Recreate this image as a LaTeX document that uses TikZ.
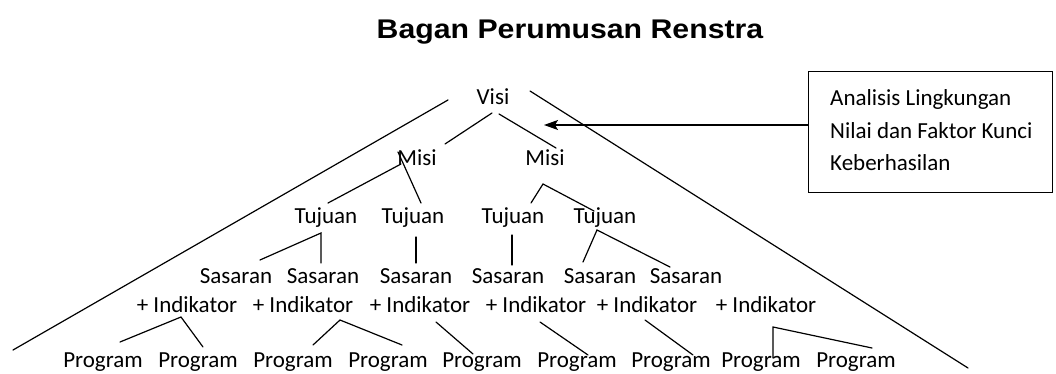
\documentclass[tikz,border=0pt]{standalone}
\usepackage{fontspec}
\setmainfont{Carlito}
\newfontfamily\titlefont{Liberation Sans}
\usetikzlibrary{arrows.meta}
\begin{document}
\begin{tikzpicture}[x=1pt,y=-1pt,
  lbl/.style={anchor=base,inner sep=0pt,font=\fontsize{23}{28}\selectfont},
  ln/.style={line width=1.2pt,line cap=round},
]
\useasboundingbox (0,0) rectangle (1056,374);
% title
\node[anchor=base,inner sep=0pt] (title) at (570,39)
  {\scalebox{1.12}[1]{\titlefont\bfseries\fontsize{27}{32}\selectfont Bagan Perumusan Renstra}};
% tree labels
\node[lbl] (visi) at (493,105) {Visi};
\node[lbl] (misiA) at (417,165) {Misi};
\node[lbl] (misiB) at (545,165) {Misi};
\node[lbl] (tujA) at (326,223) {Tujuan};
\node[lbl] (tujB) at (413,223) {Tujuan};
\node[lbl] (tujC) at (513,223) {Tujuan};
\node[lbl] (tujD) at (605,223) {Tujuan};
\node[lbl] (sasA) at (236,283) {Sasaran};
\node[lbl] (sasB) at (323,283) {Sasaran};
\node[lbl] (sasC) at (416,283) {Sasaran};
\node[lbl] (sasD) at (508,283) {Sasaran};
\node[lbl] (sasE) at (600,283) {Sasaran};
\node[lbl] (sasF) at (686,283) {Sasaran};
\node[lbl] (indA) at (187,312) {+ Indikator};
\node[lbl] (indB) at (303,312) {+ Indikator};
\node[lbl] (indC) at (420,312) {+ Indikator};
\node[lbl] (indD) at (536,312) {+ Indikator};
\node[lbl] (indE) at (647,312) {+ Indikator};
\node[lbl] (indF) at (766,312) {+ Indikator};
\node[lbl] (prA) at (103,367) {Program};
\node[lbl] (prB) at (198,367) {Program};
\node[lbl] (prC) at (293,367) {Program};
\node[lbl] (prD) at (388,367) {Program};
\node[lbl] (prE) at (482,367) {Program};
\node[lbl] (prF) at (577,367) {Program};
\node[lbl] (prG) at (671,367) {Program};
\node[lbl] (prH) at (761,367) {Program};
\node[lbl] (prI) at (856,367) {Program};
% box
\node[draw,line width=1.4pt,anchor=north west,inner sep=0pt,
      minimum width=244pt,minimum height=121pt] (box) at (808,71) {};
\node[lbl,anchor=base west] (bt1) at (830,106) {Analisis Lingkungan};
\node[lbl,anchor=base west] (bt2) at (830,139) {Nilai dan Faktor Kunci};
\node[lbl,anchor=base west] (bt3) at (830,171) {Keberhasilan};
% connector end points
\coordinate (Ls) at (448,100);  \coordinate (Le) at (13,350);
\coordinate (Rs) at (530,91);   \coordinate (Re) at (968,368);
\coordinate (v1) at (492,113);  \coordinate (v1e) at (445,144);
\coordinate (v2) at (499,114);  \coordinate (v2e) at (556,148);
\coordinate (arrtip) at (544,125);
\coordinate (mA) at (401,164);  \coordinate (mAt) at (398,152);
\coordinate (mAl) at (328,203); \coordinate (mAr) at (421,203);
\coordinate (mB) at (543,184);  \coordinate (mBl) at (531,203); \coordinate (mBr) at (594,211);
\coordinate (tA) at (321,233);  \coordinate (tAl) at (260,260); \coordinate (tAr) at (321,263);
\coordinate (tB) at (416,237);  \coordinate (tBe) at (416,263);
\coordinate (tC) at (512,235);  \coordinate (tCe) at (512,265);
\coordinate (tD) at (597,230);  \coordinate (tDl) at (583,262); \coordinate (tDr) at (670,267);
\coordinate (iA) at (181,317);  \coordinate (iAl) at (120,342); \coordinate (iAr) at (203,347);
\coordinate (iB) at (340,320);  \coordinate (iBl) at (313,345); \coordinate (iBr) at (402,345);
\coordinate (iC) at (436,322);  \coordinate (iCe) at (473,354);
\coordinate (iD) at (540,322);  \coordinate (iDe) at (588,355);
\coordinate (iE) at (645,320);  \coordinate (iEe) at (693,355);
\coordinate (iF) at (773,327);  \coordinate (iFd) at (773,358); \coordinate (iFr) at (872,348);
% connectors
\draw[ln] (Ls) -- (Le);
\draw[ln] (Rs) -- (Re);
\draw[ln] (v1) -- (v1e);
\draw[ln] (v2) -- (v2e);
\draw[ln,-{Stealth[length=14pt,width=10pt,inset=3pt]}] (box.west |- arrtip) -- (arrtip);
\draw[ln] (mAl) -- (mA);
\draw[ln] (mAt) -- (mAr);
\draw[ln] (mBl) -- (mB) -- (mBr);
\draw[ln] (tAl) -- (tA) -- (tAr);
\draw[ln] (tB) -- (tBe);
\draw[ln] (tC) -- (tCe);
\draw[ln] (tDl) -- (tD) -- (tDr);
\draw[ln] (iAl) -- (iA) -- (iAr);
\draw[ln] (iBl) -- (iB) -- (iBr);
\draw[ln] (iC) -- (iCe);
\draw[ln] (iD) -- (iDe);
\draw[ln] (iE) -- (iEe);
\draw[ln] (iFd) -- (iF) -- (iFr);
\end{tikzpicture}
\end{document}
